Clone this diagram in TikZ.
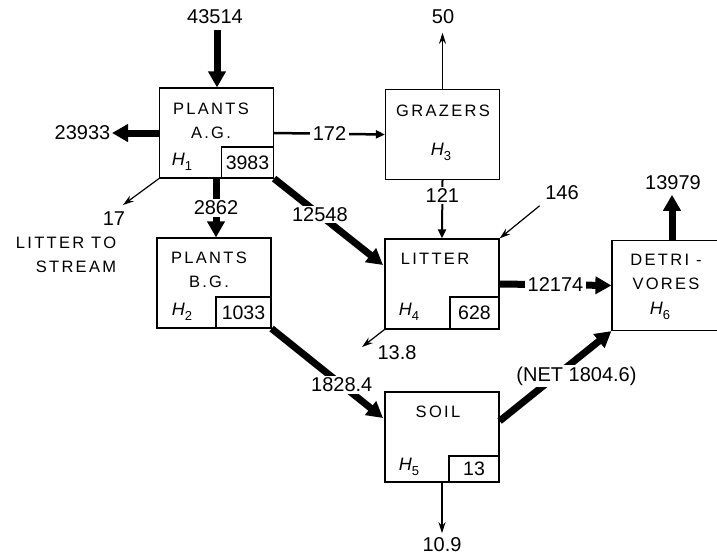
\documentclass[tikz,border=0pt]{standalone}
\usepackage{fontspec}
\setmainfont{Liberation Sans}
\newfontfamily\boxfont[LetterSpace=14]{Liberation Sans}
\usetikzlibrary{arrows.meta,positioning,calc}

% italic H with a lowered index
\newcommand{\hcomp}[1]{\textit{H}\raisebox{-0.5ex}{\fontsize{13}{13}\selectfont #1}}

\begin{document}
\begin{tikzpicture}[x=1pt,y=-1pt,
    compbox/.style={draw, line width=1.2pt, minimum width=114pt, minimum height=90pt, inner sep=0pt},
    storebox/.style={draw, line width=1.2pt, minimum height=31pt, inner sep=0pt, font=\fontsize{19.5}{19.5}\selectfont},
    lbl/.style={font=\fontsize{16.5}{24}\boxfont, align=center, inner sep=0pt},
    hlbl/.style={font=\fontsize{18}{18}\selectfont, inner sep=0pt},
    num/.style={font=\fontsize{20}{20}\selectfont, inner sep=1.5pt},
    fatflow/.style={line width=7pt, -{Triangle[length=16pt,width=17pt]}},
    midflow/.style={line width=2.5pt, -{Triangle[length=9pt,width=8pt]}},
    thinflow/.style={line width=1.2pt, -{Stealth[length=11pt,width=7pt]}}]
  \useasboundingbox (0,0) rectangle (717,558);

  % compartments
  \node[compbox] (pAG) at (216.5,133) {};
  \node[compbox] (graz) at (442.5,134.5) {};
  \node[compbox] (pBG) at (214,283) {};
  \node[compbox] (litter) at (442,284) {};
  \node[compbox] (soil) at (442,437) {};
  \begin{scope}
    \clip (0,0) rectangle (717,558);
    \node[compbox, minimum width=120pt] (detr) at (672,285.5) {};
  \end{scope}

  % standing stocks
  \node[storebox, minimum width=52pt, anchor=south east] (sAG) at (pAG.south east) {3983};
  \node[storebox, minimum width=55pt, anchor=south east] (sBG) at (pBG.south east) {1033};
  \node[storebox, minimum width=49pt, minimum height=32pt, anchor=south east] (sLit) at (litter.south east) {628};
  \node[storebox, minimum width=50pt, minimum height=26pt, anchor=south east] (sSoil) at (soil.south east) {13};

  % compartment names
  \node[lbl] (tAG) at (211,121) {PLANTS\\A.G.};
  \node[hlbl] (hAG) at (182,162) {\hcomp{1}};
  \node[lbl] (tGraz) at (443,111) {GRAZERS};
  \node[hlbl] (hGraz) at (441,152) {\hcomp{3}};
  \node[lbl] (tBG) at (209,270) {PLANTS\\B.G.};
  \node[hlbl] (hBG) at (182,312) {\hcomp{2}};
  \node[lbl] (tLit) at (435,259) {LITTER};
  \node[hlbl] (hLit) at (409,312) {\hcomp{4}};
  \node[lbl] (tSoil) at (438,412) {SOIL};
  \node[hlbl] (hSoil) at (409,467) {\hcomp{5}};
  \node[lbl] (tDetr) at (666,272) {DETRI -\\VORES};
  \node[hlbl] (hDetr) at (660,311) {\hcomp{6}};

  % inputs and losses
  \node[num] (l43514) at (215,17) {43514};
  \draw[fatflow] (l43514.south) ++(2,4) coordinate (in43514) -- (pAG.north -| in43514);
  \node[num, anchor=east] (l23933) at (112,133) {23933};
  \draw[fatflow] (pAG.west) -- (l23933.east);
  \coordinate (e17) at (123,205);
  \draw[thinflow] (pAG.south west) -- (e17);
  \node[num] (l17) at (114,219) {17};
  \node[lbl, align=right] (tStream) at (66,255) {LITTER TO\\STREAM};
  \node[num] (l50) at (443,17) {50};
  \draw[thinflow] (graz.north) -- ([yshift=-7]l50.south -| graz.north);
  \node[num] (l146) at (562,193) {146};
  \draw[thinflow] (l146.south west) ++(-4,4) -- (litter.north east);
  \node[num] (l13979) at (673,183) {13979};
  \draw[fatflow] (detr.north) -- ([yshift=-3]l13979.south -| detr.north);
  \coordinate (e138) at (362,347);
  \draw[thinflow] (litter.south west) -- (e138);
  \node[num] (l138) at (397,353) {13.8};
  \node[num] (l109) at (442,545) {10.9};
  \draw[thinflow] (soil.south) -- ([yshift=3]l109.north);

  % transfers
  \draw[midflow] (pAG.east) -- node[num, fill=white, inner xsep=3pt] {172} (graz.west);
  \draw[fatflow] (pAG.south -| 216,0) -- node[num, fill=white, inner ysep=2pt] {2862} (pBG.north -| 216,0);
  \draw[fatflow] (sAG.south east) -- node[num, fill=white, pos=0.42] {12548} (383,265);
  \draw[line width=2pt, -{Triangle[length=9pt,width=8pt]}] (graz.south) -- node[num, fill=white, pos=0.26] {121} (litter.north);
  \draw[fatflow] (litter.east) -- node[num, fill=white, inner xsep=3pt] {12174} (detr.west);
  \draw[fatflow] (sBG.south east) -- node[num, fill=white, pos=0.63] {1828.4} (383,418);
  \draw[fatflow] (soil.east |- 0,421) -- node[num, fill=white, pos=0.5, xshift=21pt] {(NET 1804.6)} (detr.south west);
\end{tikzpicture}
\end{document}
